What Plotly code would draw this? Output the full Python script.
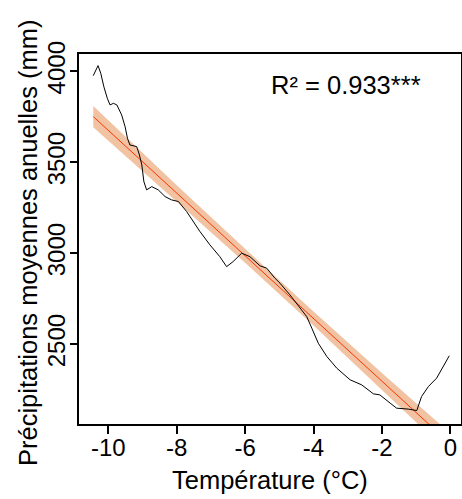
import plotly.graph_objects as go

# Observed series (temperature °C, precipitation mm)
temp = [-10.44, -10.30, -10.22, -10.13, -10.03, -9.95, -9.85, -9.75, -9.61, -9.51,
        -9.44, -9.37, -9.17, -9.09, -9.02, -8.96, -8.88, -8.73, -8.54, -8.34,
        -8.15, -7.95, -7.71, -7.61, -7.32, -7.03, -6.74, -6.54, -6.35, -6.10,
        -5.86, -5.56, -5.37, -5.13, -4.98, -4.69, -4.35, -4.20, -4.05, -3.86,
        -3.61, -3.32, -2.93, -2.59, -2.25, -2.06, -1.76, -1.57, -1.23, -0.98,
        -0.84, -0.64, -0.40, -0.20, -0.03]
precip = [3976, 4031, 3989, 3915, 3852, 3815, 3824, 3815, 3760, 3696,
          3632, 3595, 3586, 3540, 3485, 3393, 3348, 3366, 3348, 3311,
          3293, 3284, 3229, 3201, 3119, 3046, 2981, 2926, 2954, 3000,
          2981, 2930, 2918, 2863, 2835, 2771, 2688, 2652, 2588, 2505,
          2432, 2368, 2304, 2276, 2227, 2221, 2176, 2148, 2143, 2135,
          2212, 2267, 2313, 2377, 2436]

# Fitted regression line with confidence band
fit_x = [-10.44, -8.0, -6.0, -4.0, -2.0, -0.03]
fit_y = [3751, 3330, 2986, 2641, 2297, 1957]
fit_lo = [3693, 3286, 2948, 2603, 2253, 1899]
fit_hi = [3809, 3374, 3024, 2679, 2341, 2015]

x_ticks = [-10, -8, -6, -4, -2, 0]
x_tick_labels = ["-10", "-8", "-6", "-4", "-2", "0"]
y_ticks = [2500, 3000, 3500, 4000]
y_tick_labels = ["2500", "3000", "3500", "4000"]
r2_label = "R² = 0.933***"
x_title = "Température (°C)"
y_title = "Précipitations moyennes anuelles (mm)"

FONT = "Liberation Sans, Arial, sans-serif"
W, H = 462, 499
L, R, T, B = 79, 1, 54, 75
PW, PH = W - L - R, H - T - B

fig = go.Figure()
fig.add_trace(go.Scatter(x=fit_x, y=fit_hi, mode="lines", line=dict(width=0),
                         hoverinfo="skip", showlegend=False))
fig.add_trace(go.Scatter(x=fit_x, y=fit_lo, mode="lines", line=dict(width=0),
                         fill="tonexty", fillcolor="#f2c3a2",
                         hoverinfo="skip", showlegend=False))
fig.add_trace(go.Scatter(x=fit_x, y=fit_y, mode="lines",
                         line=dict(color="#ff3300", width=1), showlegend=False))
fig.add_trace(go.Scatter(x=temp, y=precip, mode="lines",
                         line=dict(color="black", width=1), showlegend=False))

# R² label
fig.add_annotation(x=(423 - L) / PW, y=(H - B - 85) / PH, xref="paper", yref="paper",
                   text=r2_label, showarrow=False, xanchor="right", yanchor="middle",
                   font=dict(family=FONT, size=25.5, color="black"))
# axis titles
fig.add_annotation(x=(270 - L) / PW, y=(H - B - 480) / PH, xref="paper", yref="paper",
                   text=x_title, showarrow=False, xanchor="center", yanchor="middle",
                   font=dict(family=FONT, size=25.5, color="black"))
fig.add_annotation(x=(28 - L) / PW, y=(H - B - 243) / PH, xref="paper", yref="paper",
                   text=y_title, showarrow=False, xanchor="center", yanchor="middle",
                   textangle=-90, font=dict(family=FONT, size=25.5, color="black"))

fig.update_layout(
    width=W, height=H,
    margin=dict(l=L, r=R, t=T, b=B, autoexpand=False),
    paper_bgcolor="white", plot_bgcolor="white",
    font=dict(family=FONT, size=24, color="black"),
)
fig.update_xaxes(range=[-10.857, 0.313], tickvals=x_ticks, ticktext=x_tick_labels,
                 showgrid=False, zeroline=False, automargin=False,
                 showline=True, linecolor="black", linewidth=1.5, mirror=True,
                 ticks="outside", ticklen=8, tickcolor="black", tickwidth=1.5,
                 ticklabelstandoff=-7, tickfont=dict(size=24))
fig.update_yaxes(range=[2061, 4095], tickvals=y_ticks, ticktext=y_tick_labels,
                 showgrid=False, zeroline=False, automargin=False,
                 showline=True, linecolor="black", linewidth=1.5, mirror=True,
                 ticks="outside", ticklen=7, tickcolor="black", tickwidth=1.5,
                 ticklabelstandoff=-4, tickangle=-90, tickfont=dict(size=24))

fig.write_html("out.html", config={"displayModeBar": False},
               post_script="document.body.style.margin='0';document.body.style.padding='0';")
